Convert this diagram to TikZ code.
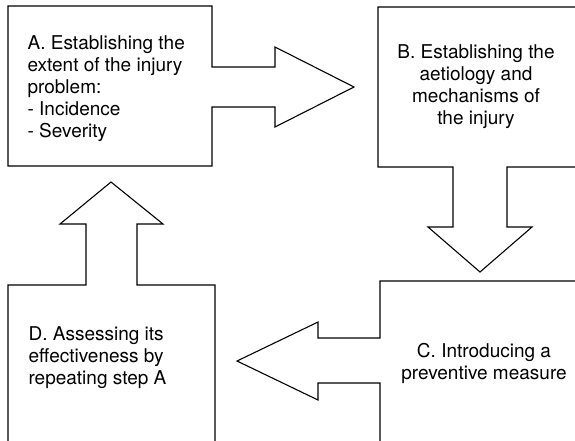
\documentclass[tikz,border=0pt]{standalone}
\usepackage{fontspec}
\setmainfont{TeX Gyre Heros}
\begin{document}
\begin{tikzpicture}[x=1pt,y=-1pt,line width=1.1pt,line join=miter,
  steptext/.style={inner sep=0pt,font=\fontsize{19}{22}\selectfont}]
\clip (0,0) rectangle (575,440);
\draw (8,6) -- (212,6) -- (212,67) -- (275,67) -- (275,47) -- (354,87) -- (275,127) -- (275,107) -- (212,107) -- (212,166) -- (8,166) -- cycle;
\draw (600,7) -- (378,7) -- (378,167) -- (453,167) -- (453,227) -- (428,227) -- (480,272) -- (532,227) -- (507,227) -- (507,167) -- (600,167);
\draw (600,281) -- (380,281) -- (380,338) -- (318,338) -- (318,322) -- (237,361) -- (318,400) -- (318,383) -- (380,383) -- (380,460);
\draw (8,460) -- (8,285) -- (86,285) -- (86,224) -- (60,224) -- (111,182) -- (163,224) -- (137,224) -- (137,285) -- (215,285) -- (215,460);
\node[steptext,anchor=base west,align=left] (stepA) at (27,137) {A. Establishing the\\extent of the injury\\problem:\\- Incidence\\- Severity};
\node[steptext,anchor=base,align=center] (stepB) at (476,124) {B. Establishing the\\aetiology and\\mechanisms of\\the injury};
\node[steptext,anchor=base,align=center] (stepC) at (484,379) {C. Introducing a\\preventive measure};
\node[steptext,anchor=base west,align=left] (stepD) at (28,384) {D. Assessing its\\effectiveness by\\repeating step A};
\end{tikzpicture}
\end{document}
